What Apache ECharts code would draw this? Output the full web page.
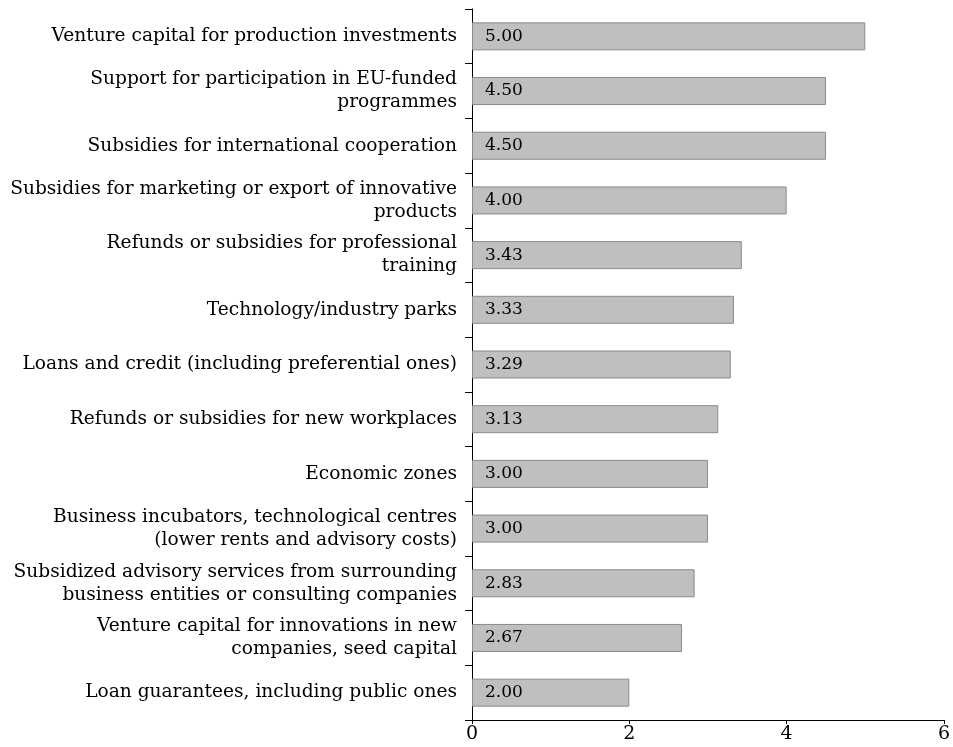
<!DOCTYPE html>
<html>
<head>
<meta charset="utf-8">
<script src="https://cdn.jsdelivr.net/npm/echarts@6/dist/echarts.min.js"></script>
<style>
html,body{margin:0;padding:0;background:#fff;}
#chart{width:953px;height:747px;}
</style>
</head>
<body>
<div id="chart"></div>
<script>
// Categories listed bottom to top
const categories = [
  "Loan guarantees, including public ones",
  "Venture capital for innovations in new\ncompanies, seed capital",
  "Subsidized advisory services from surrounding\nbusiness entities or consulting companies",
  "Business incubators, technological centres\n(lower rents and advisory costs)",
  "Economic zones",
  "Refunds or subsidies for new workplaces",
  "Loans and credit (including preferential ones)",
  "Technology/industry parks",
  "Refunds or subsidies for professional\ntraining",
  "Subsidies for marketing or export of innovative\nproducts",
  "Subsidies for international cooperation",
  "Support for participation in EU-funded\nprogrammes",
  "Venture capital for production investments"
];
const values = [2.00, 2.67, 2.83, 3.00, 3.00, 3.13, 3.29, 3.33, 3.43, 4.00, 4.50, 4.50, 5.00];
const xTicks = [0, 2, 4, 6];

const FONT = '"DejaVu Serif", serif';
const chart = echarts.init(document.getElementById('chart'), null, {renderer: 'canvas'});
chart.setOption({
  animation: false,
  backgroundColor: '#ffffff',
  grid: {left: 472, right: 9, top: 9, bottom: 27, containLabel: false},
  xAxis: {
    type: 'value',
    min: xTicks[0],
    max: xTicks[xTicks.length - 1],
    interval: 2,
    axisLine: {show: true, lineStyle: {color: '#000', width: 1}},
    axisTick: {show: true, length: 4, lineStyle: {color: '#000'}},
    splitLine: {show: false},
    axisLabel: {color: '#000', fontFamily: FONT, fontSize: 19, margin: 5}
  },
  yAxis: {
    type: 'category',
    data: categories,
    axisLine: {show: true, lineStyle: {color: '#000', width: 1}},
    axisTick: {show: true, length: 7, alignWithLabel: false, lineStyle: {color: '#000'}},
    axisLabel: {color: '#000', fontFamily: FONT, fontSize: 18.6, lineHeight: 23, margin: 15, align: 'right'}
  },
  series: [{
    type: 'bar',
    data: values,
    barWidth: 28,
    itemStyle: {color: '#bfbfbf', borderColor: '#8a8a8a', borderWidth: 1},
    label: {
      show: true,
      position: 'insideLeft',
      distance: 13,
      color: '#000',
      fontFamily: FONT,
      fontSize: 17,
      formatter: p => p.value.toFixed(2)
    }
  }]
});
</script>
</body>
</html>
